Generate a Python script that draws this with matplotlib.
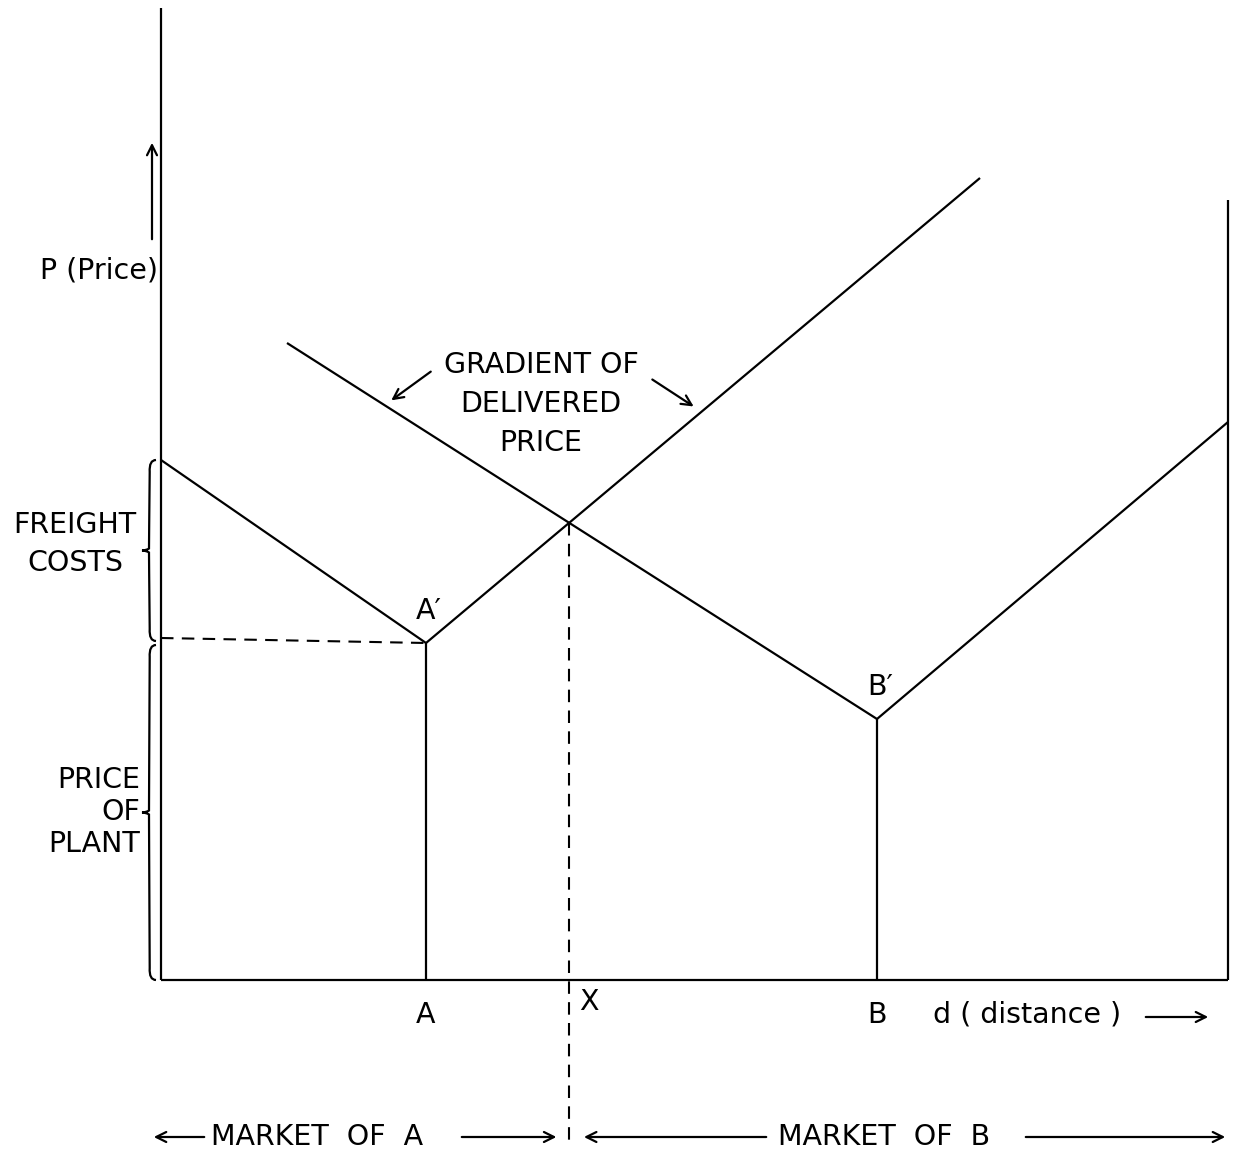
import numpy as np
import matplotlib
matplotlib.use("Agg")
import matplotlib.pyplot as plt
from matplotlib.path import Path
from matplotlib.patches import PathPatch

# distance / price (origin at the corner of the axes)
plant_names = ["A", "B"]
plant_dist = [265, 716]
plant_price = [337, 261]

# delivered price gradients: left end, plant, right end
grad_a_dist = [0, 265, 819]
grad_a_price = [520, 337, 802]
grad_b_dist = [126, 716, 1067]
grad_b_price = [637, 261, 558]

d_max = 1067
p_top = 972
p_right_top = 780

LW = 1.6
FS = 20.5

fig = plt.figure(figsize=(12.53, 11.54), dpi=100)
ax = fig.add_axes([0, 0, 1, 1])
ax.set_xlim(-161, 1092)
ax.set_ylim(-174, 980)
ax.axis("off")

k = dict(color="black", lw=LW, solid_capstyle="butt")

# axes
ax.plot([0, 0], [0, p_top], **k)
ax.plot([0, d_max], [0, 0], **k)
ax.plot([d_max, d_max], [0, p_right_top], **k)

# gradients + plant verticals
ax.plot(grad_a_dist, grad_a_price, **k)
ax.plot(grad_b_dist, grad_b_price, **k)
for d, p in zip(plant_dist, plant_price):
    ax.plot([d, d], [0, p], **k)

# boundary X: where A's rising branch meets B's falling branch
sa = (grad_a_price[2] - grad_a_price[1]) / (grad_a_dist[2] - grad_a_dist[1])
sb = (grad_b_price[1] - grad_b_price[0]) / (grad_b_dist[1] - grad_b_dist[0])
x_d = (grad_b_price[0] - sb * grad_b_dist[0] - grad_a_price[1] + sa * grad_a_dist[1]) / (sa - sb)
x_p = grad_a_price[1] + sa * (x_d - grad_a_dist[1])

dash = dict(color="black", lw=1.5, dashes=(6, 4))
ax.plot([x_d, x_d], [x_p, -160], **dash)
ax.plot([0, plant_dist[0]], [plant_price[0] + 5, plant_price[0]], **dash)


def brace(x, y0, y1, w=7):
    # curly brace opening to the right, tip on the left
    ym = (y0 + y1) / 2
    verts = [(x + w, y0), (x, y0), (x + w * 0.1, y0 + 12), (x, ym - 8),
             (x, ym - 2), (x - w * 0.4, ym), (x - w, ym),
             (x - w * 0.4, ym), (x, ym + 2), (x, ym + 8),
             (x + w * 0.1, y1 - 12), (x, y1), (x + w, y1)]
    codes = [Path.MOVETO] + [Path.CURVE3, Path.CURVE3] * 6
    ax.add_patch(PathPatch(Path(verts, codes), fc="none", ec="black", lw=LW))


brace(-12, plant_price[0] + 2, grad_a_price[0])
brace(-12, 0, plant_price[0] - 2)

ta = dict(fontsize=FS, family="DejaVu Sans", color="black")
ax.text(-86, 436, "FREIGHT\nCOSTS", ha="center", va="center", linespacing=1.45, **ta)
ax.text(-21, 168, "PRICE\nOF\nPLANT", ha="right", va="center", linespacing=1.2, **ta)

# price axis label
ax.annotate("", xy=(-9, 840), xytext=(-9, 738),
            arrowprops=dict(arrowstyle="->", lw=1.6, color="black", mutation_scale=18))
ax.text(-3, 710, "P (Price)", ha="right", va="center", **ta)

# gradient label
ax.text(380, 576, "GRADIENT OF\nDELIVERED\nPRICE", ha="center", va="center",
        linespacing=1.5, **ta)
ax.annotate("", xy=(228, 578), xytext=(272, 610),
            arrowprops=dict(arrowstyle="->", lw=1.6, color="black", mutation_scale=18))
ax.annotate("", xy=(535, 572), xytext=(489, 602),
            arrowprops=dict(arrowstyle="->", lw=1.6, color="black", mutation_scale=18))

# plant points and ticks
for name, d, p in zip(plant_names, plant_dist, plant_price):
    ax.text(d + 3, p + 18, name + "\u2032", ha="center", va="bottom", **ta)
    ax.text(d, -35, name, ha="center", va="center", **ta)
ax.text(x_d + 10, -22, "X", ha="left", va="center", **ta)
ax.text(772, -35, "d ( distance )", ha="left", va="center", **ta)
ax.annotate("", xy=(1050, -37), xytext=(982, -37),
            arrowprops=dict(arrowstyle="->", lw=1.6, color="black", mutation_scale=18))

# market areas
ym = -157
ap = dict(arrowstyle="->", lw=1.6, color="black", mutation_scale=18)
ax.annotate("", xy=(-10, ym), xytext=(46, ym), arrowprops=ap)
ax.text(50, ym, "MARKET  OF  A", ha="left", va="center", **ta)
ax.annotate("", xy=(x_d - 10, ym), xytext=(298, ym), arrowprops=ap)
ax.annotate("", xy=(x_d + 12, ym), xytext=(608, ym), arrowprops=ap)
ax.text(617, ym, "MARKET  OF  B", ha="left", va="center", **ta)
ax.annotate("", xy=(d_max, ym), xytext=(862, ym), arrowprops=ap)

fig.savefig("out.png", dpi=100, facecolor="white")
